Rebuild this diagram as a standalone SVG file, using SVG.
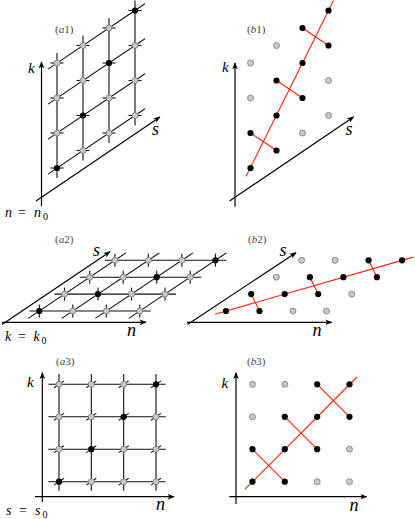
<svg xmlns="http://www.w3.org/2000/svg" xmlns:xlink="http://www.w3.org/1999/xlink" width="415" height="519" viewBox="0 0 415 519">
<style>
.ax{stroke:#000;stroke-width:1.2;fill:none}
.gl{stroke:#111;stroke-width:1.1;fill:none}
.tk{stroke:#111;stroke-width:1.1;fill:none}
.rd{stroke:#f2260c;stroke-width:1.1;fill:none}
.g{fill:#c9c9c9;stroke:#6a6a6a;stroke-width:0.7}
.b{fill:#000}
text{font-family:"Liberation Serif","DejaVu Serif",serif}
.lab{font-size:11px;fill:#444}
.var{font-style:italic;fill:#000}
.eq{fill:#000;font-size:14px}
</style>
<defs>
<marker id="ar" viewBox="0 0 10 10" refX="9" refY="5" markerWidth="7" markerHeight="7" orient="auto" markerUnits="userSpaceOnUse"><path d="M0 1L10 5L0 9L2.5 5z" fill="#000"/></marker>
<circle id="gd" r="3" class="g"/>
<circle id="bd" r="3.1" class="b"/>
<path id="th" d="M-6.5 0H6.5" class="tk"/>
<path id="tv" d="M0 -6.5V6.5" class="tk"/>
<path id="td" d="M-5 3.4L5 -3.4" class="tk"/>
</defs>

<!-- Panel a1 -->
<g id="panel-a1">
<text class="lab" x="55" y="33" font-family="Liberation Serif, serif">(<tspan font-style="italic">a</tspan>1)</text>
<g id="a1-axes" class="ax">
<path d="M41.5 206V62" marker-end="url(#ar)"/>
<path d="M36 201L160 117" marker-end="url(#ar)"/>
</g>
<text class="var" x="28" y="72.5" font-size="15">k</text>
<text class="var" x="152" y="135" font-size="18">s</text>
<text class="eq" y="216.7"><tspan font-style="italic" x="5">n</tspan><tspan x="18">=</tspan><tspan font-style="italic" x="34">n</tspan><tspan x="43" dy="3" font-size="10">0</tspan></text>
<g id="a1-grid" class="gl">
<path d="M57 178V53M83 160.5V35.5M109 143V18M135 125.5V0.5"/>
<path d="M48 174.1L145 108.8M48 139.1L145 73.8M48 104.1L145 38.8M48 69.1L145 3.8"/>
</g>
<g id="a1-ticks">
<use href="#th" x="57" y="168"/><use href="#th" x="57" y="133"/><use href="#th" x="57" y="98"/><use href="#th" x="57" y="63"/>
<use href="#th" x="83" y="150.5"/><use href="#th" x="83" y="115.5"/><use href="#th" x="83" y="80.5"/><use href="#th" x="83" y="45.5"/>
<use href="#th" x="109" y="133"/><use href="#th" x="109" y="98"/><use href="#th" x="109" y="63"/><use href="#th" x="109" y="28"/>
<use href="#th" x="135" y="115.5"/><use href="#th" x="135" y="80.5"/><use href="#th" x="135" y="45.5"/><use href="#th" x="135" y="10.5"/>
</g>
<g id="a1-nodes">
<use href="#bd" x="57" y="168"/><use href="#gd" x="57" y="133"/><use href="#gd" x="57" y="98"/><use href="#gd" x="57" y="63"/>
<use href="#gd" x="83" y="150.5"/><use href="#bd" x="83" y="115.5"/><use href="#gd" x="83" y="80.5"/><use href="#gd" x="83" y="45.5"/>
<use href="#gd" x="109" y="133"/><use href="#gd" x="109" y="98"/><use href="#bd" x="109" y="63"/><use href="#gd" x="109" y="28"/>
<use href="#gd" x="135" y="115.5"/><use href="#gd" x="135" y="80.5"/><use href="#gd" x="135" y="45.5"/><use href="#bd" x="135" y="10.5"/>
</g>
</g>

<!-- Panel b1 -->
<g id="panel-b1">
<text class="lab" x="247" y="33">(<tspan font-style="italic">b</tspan>1)</text>
<g id="b1-axes" class="ax">
<path d="M235 206.7V63" marker-end="url(#ar)"/>
<path d="M229.5 201L353.5 117" marker-end="url(#ar)"/>
</g>
<text class="var" x="222" y="72" font-size="15">k</text>
<text class="var" x="345.5" y="135" font-size="18">s</text>
<g id="b1-connectors" class="rd">
<path d="M246 176.5L333.5 0.4"/>
<path d="M250.5 133L276.5 150.5M276.5 80.5L302.5 98M302.5 28L328.5 45.5"/>
</g>
<g id="b1-nodes">
<use href="#bd" x="250.5" y="168"/><use href="#bd" x="250.5" y="133"/><use href="#gd" x="250.5" y="98"/><use href="#gd" x="250.5" y="63"/>
<use href="#bd" x="276.5" y="150.5"/><use href="#bd" x="276.5" y="115.5"/><use href="#bd" x="276.5" y="80.5"/><use href="#gd" x="276.5" y="45.5"/>
<use href="#gd" x="302.5" y="133"/><use href="#bd" x="302.5" y="98"/><use href="#bd" x="302.5" y="63"/><use href="#bd" x="302.5" y="28"/>
<use href="#gd" x="328.5" y="115.5"/><use href="#gd" x="328.5" y="80.5"/><use href="#bd" x="328.5" y="45.5"/><use href="#bd" x="328.5" y="10.5"/>
</g>
</g>

<!-- Panel a2 -->
<g id="panel-a2">
<text class="lab" x="55" y="243">(<tspan font-style="italic">a</tspan>2)</text>
<g id="a2-axes" class="ax">
<path d="M2 322.3H146" marker-end="url(#ar)"/>
<path d="M2 324.5L110 251.7" marker-end="url(#ar)"/>
</g>
<text class="var" x="93" y="255.7" font-size="18">s</text>
<text class="var" x="127" y="336" font-size="18">n</text>
<text class="eq" y="341"><tspan font-style="italic" x="5">k</tspan><tspan x="18">=</tspan><tspan font-style="italic" x="33.5">k</tspan><tspan x="41.5" dy="3" font-size="10">0</tspan></text>
<g id="a2-grid" class="gl">
<path d="M29.3 311H150.8M54.5 294.1H176M79.7 277.2H201.2M104.9 260.3H226.4"/>
<path d="M28.3 318.4L125.9 252.9M61.8 318.4L159.4 252.9M95.3 318.4L192.9 252.9M128.8 318.4L226.4 252.9"/>
</g>
<g id="a2-ticks">
<use href="#tv" x="39.3" y="311"/><use href="#tv" x="72.8" y="311"/><use href="#tv" x="106.3" y="311"/><use href="#tv" x="139.8" y="311"/>
<use href="#tv" x="64.5" y="294.1"/><use href="#tv" x="98" y="294.1"/><use href="#tv" x="131.5" y="294.1"/><use href="#tv" x="165" y="294.1"/>
<use href="#tv" x="89.7" y="277.2"/><use href="#tv" x="123.2" y="277.2"/><use href="#tv" x="156.7" y="277.2"/><use href="#tv" x="190.2" y="277.2"/>
<use href="#tv" x="114.9" y="260.3"/><use href="#tv" x="148.4" y="260.3"/><use href="#tv" x="181.9" y="260.3"/><use href="#tv" x="215.4" y="260.3"/>
</g>
<g id="a2-nodes">
<use href="#bd" x="39.3" y="311"/><use href="#gd" x="72.8" y="311"/><use href="#gd" x="106.3" y="311"/><use href="#gd" x="139.8" y="311"/>
<use href="#gd" x="64.5" y="294.1"/><use href="#bd" x="98" y="294.1"/><use href="#gd" x="131.5" y="294.1"/><use href="#gd" x="165" y="294.1"/>
<use href="#gd" x="89.7" y="277.2"/><use href="#gd" x="123.2" y="277.2"/><use href="#bd" x="156.7" y="277.2"/><use href="#gd" x="190.2" y="277.2"/>
<use href="#gd" x="114.9" y="260.3"/><use href="#gd" x="148.4" y="260.3"/><use href="#gd" x="181.9" y="260.3"/><use href="#bd" x="215.4" y="260.3"/>
</g>
</g>

<!-- Panel b2 -->
<g id="panel-b2">
<text class="lab" x="248" y="243">(<tspan font-style="italic">b</tspan>2)</text>
<g id="b2-axes" class="ax">
<path d="M187 322.3H331.7" marker-end="url(#ar)"/>
<path d="M187.5 324.4L296 252.7" marker-end="url(#ar)"/>
</g>
<text class="var" x="279.5" y="255.7" font-size="18">s</text>
<text class="var" x="312.5" y="336" font-size="18">n</text>
<g id="b2-connectors" class="rd">
<path d="M215 314.2L413.3 257.1"/>
<path d="M251.2 294.1L259.5 311M309.9 277.2L318.2 294.1M368.6 260.3L376.9 277.2"/>
</g>
<g id="b2-nodes">
<use href="#bd" x="226" y="311"/><use href="#bd" x="259.5" y="311"/><use href="#gd" x="293" y="311"/><use href="#gd" x="326.5" y="311"/>
<use href="#bd" x="251.2" y="294.1"/><use href="#bd" x="284.7" y="294.1"/><use href="#bd" x="318.2" y="294.1"/><use href="#gd" x="351.7" y="294.1"/>
<use href="#gd" x="276.4" y="277.2"/><use href="#bd" x="309.9" y="277.2"/><use href="#bd" x="343.4" y="277.2"/><use href="#bd" x="376.9" y="277.2"/>
<use href="#gd" x="301.6" y="260.3"/><use href="#gd" x="335.1" y="260.3"/><use href="#bd" x="368.6" y="260.3"/><use href="#bd" x="402.1" y="260.3"/>
</g>
</g>

<!-- Panel a3 -->
<g id="panel-a3">
<text class="lab" x="56" y="365">(<tspan font-style="italic">a</tspan>3)</text>
<g id="a3-axes" class="ax">
<path d="M42.3 502V372.7" marker-end="url(#ar)"/>
<path d="M35 496.7H174" marker-end="url(#ar)"/>
</g>
<text class="var" x="27" y="387" font-size="15">k</text>
<text class="var" x="156" y="510" font-size="18">n</text>
<text class="eq" y="515"><tspan font-style="italic" x="6">s</tspan><tspan x="19">=</tspan><tspan font-style="italic" x="35">s</tspan><tspan x="42.5" dy="3" font-size="10">0</tspan></text>
<g id="a3-grid" class="gl">
<path d="M48.3 481.7H165.7M48.3 449.2H165.7M48.3 416.8H165.7M48.3 384.3H165.7"/>
<path d="M59 374V490.7M91.3 374V490.7M123.7 374V490.7M156 374V490.7"/>
</g>
<g id="a3-ticks">
<use href="#td" x="59" y="481.7"/><use href="#td" x="91.3" y="481.7"/><use href="#td" x="123.7" y="481.7"/><use href="#td" x="156" y="481.7"/>
<use href="#td" x="59" y="449.2"/><use href="#td" x="91.3" y="449.2"/><use href="#td" x="123.7" y="449.2"/><use href="#td" x="156" y="449.2"/>
<use href="#td" x="59" y="416.8"/><use href="#td" x="91.3" y="416.8"/><use href="#td" x="123.7" y="416.8"/><use href="#td" x="156" y="416.8"/>
<use href="#td" x="59" y="384.3"/><use href="#td" x="91.3" y="384.3"/><use href="#td" x="123.7" y="384.3"/><use href="#td" x="156" y="384.3"/>
</g>
<g id="a3-nodes">
<use href="#bd" x="59" y="481.7"/><use href="#gd" x="91.3" y="481.7"/><use href="#gd" x="123.7" y="481.7"/><use href="#gd" x="156" y="481.7"/>
<use href="#gd" x="59" y="449.2"/><use href="#bd" x="91.3" y="449.2"/><use href="#gd" x="123.7" y="449.2"/><use href="#gd" x="156" y="449.2"/>
<use href="#gd" x="59" y="416.8"/><use href="#gd" x="91.3" y="416.8"/><use href="#bd" x="123.7" y="416.8"/><use href="#gd" x="156" y="416.8"/>
<use href="#gd" x="59" y="384.3"/><use href="#gd" x="91.3" y="384.3"/><use href="#gd" x="123.7" y="384.3"/><use href="#bd" x="156" y="384.3"/>
</g>
</g>

<!-- Panel b3 -->
<g id="panel-b3">
<text class="lab" x="247" y="365">(<tspan font-style="italic">b</tspan>3)</text>
<g id="b3-axes" class="ax">
<path d="M236 504V372.7" marker-end="url(#ar)"/>
<path d="M229.3 496.7H366.7" marker-end="url(#ar)"/>
</g>
<text class="var" x="221.5" y="388" font-size="15">k</text>
<text class="var" x="349.5" y="510.5" font-size="18">n</text>
<g id="b3-connectors" class="rd">
<path d="M245 489.2L357 377"/>
<path d="M252.5 449.2L284.8 481.7M284.8 416.8L317.2 449.2M317.2 384.3L349.5 416.8"/>
</g>
<g id="b3-nodes">
<use href="#bd" x="252.5" y="481.7"/><use href="#bd" x="284.8" y="481.7"/><use href="#gd" x="317.2" y="481.7"/><use href="#gd" x="349.5" y="481.7"/>
<use href="#bd" x="252.5" y="449.2"/><use href="#bd" x="284.8" y="449.2"/><use href="#bd" x="317.2" y="449.2"/><use href="#gd" x="349.5" y="449.2"/>
<use href="#gd" x="252.5" y="416.8"/><use href="#bd" x="284.8" y="416.8"/><use href="#bd" x="317.2" y="416.8"/><use href="#bd" x="349.5" y="416.8"/>
<use href="#gd" x="252.5" y="384.3"/><use href="#gd" x="284.8" y="384.3"/><use href="#bd" x="317.2" y="384.3"/><use href="#bd" x="349.5" y="384.3"/>
</g>
</g>
</svg>
